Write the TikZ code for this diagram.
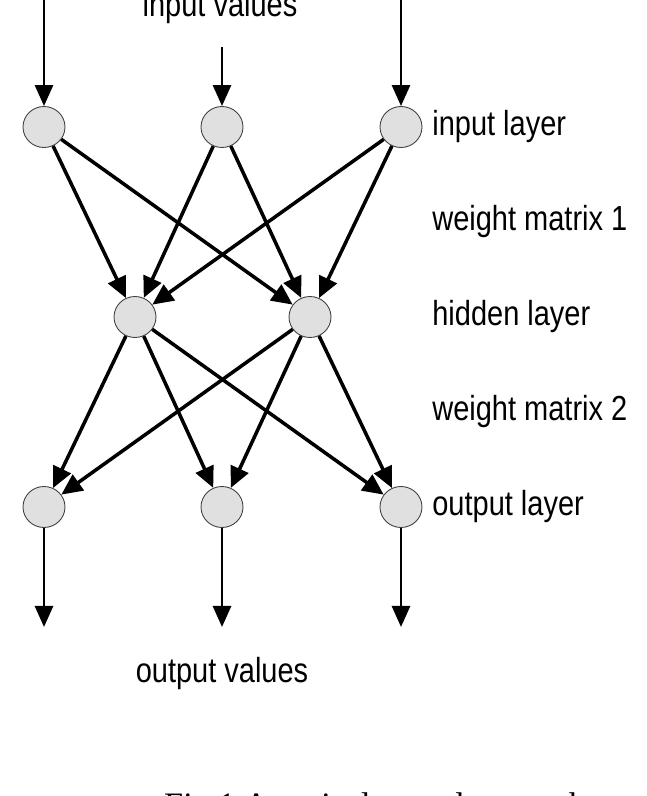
\documentclass[tikz,border=0pt]{standalone}
\usepackage{graphicx}
\usepackage{fontspec}
\setmainfont{Liberation Serif}
\setsansfont{Liberation Sans}
\usetikzlibrary{arrows.meta,shapes.geometric}

\newcommand{\alto}[1]{\scalebox{1}[1.2]{#1}}

\begin{document}
\begin{tikzpicture}[
    font=\sffamily\fontsize{16.5}{19}\selectfont,
    neurona/.style={ellipse,draw=black!75,fill=black!12,line width=0.5pt,
                    minimum width=0.84cm,minimum height=0.82cm,inner sep=0pt},
    peso/.style={line width=2.0pt,-{Triangle[width=0.38cm,length=0.42cm]}},
    flujo/.style={line width=1.6pt,-{Triangle[width=0.36cm,length=0.42cm]}},
    rotulo/.style={anchor=west,inner sep=0pt}]

  \useasboundingbox (0,0) rectangle (12.92,15.92);

  %% ================================ nodos ==================================
  \foreach \i/\x in {1/0.88, 2/4.44, 3/8.02} {
    \node[neurona] (in\i)  at (\x,13.38) {};
    \node[neurona] (out\i) at (\x, 5.78) {};
  }
  \foreach \i/\x in {1/2.70, 2/6.20}
    \node[neurona] (hid\i) at (\x,9.58) {};

  %% ============================== conexiones ===============================
  \foreach \i in {1,2,3}
    \foreach \j in {1,2}
      \draw[peso] (in\i) -- (hid\j);
  \foreach \j in {1,2}
    \foreach \k in {1,2,3}
      \draw[peso] (hid\j) -- (out\k);

  %% ======================== entradas y salidas =============================
  \coordinate (e1) at (0.88,16.10);
  \coordinate (e2) at (4.44,14.98);
  \coordinate (e3) at (8.02,16.10);
  \foreach \i in {1,2,3}
    \draw[flujo] (e\i) -- (in\i);
  \foreach \i/\x in {1/0.88, 2/4.44, 3/8.02} {
    \coordinate (s\i) at (\x,3.38);
    \draw[flujo] (out\i) -- (s\i);
  }

  %% =============================== textos ==================================
  \node[anchor=base] (entrada) at (4.40,15.58) {\alto{input values}};
  \node[anchor=base] (salida)  at (4.44, 2.26) {\alto{output values}};
  \node[rotulo] (capa1) at (8.64,13.38) {\alto{input layer}};
  \node[rotulo] (pesos1) at (8.64,11.48) {\alto{weight matrix 1}};
  \node[rotulo] (capa2) at (8.64, 9.58) {\alto{hidden layer}};
  \node[rotulo] (pesos2) at (8.64, 7.68) {\alto{weight matrix 2}};
  \node[rotulo] (capa3) at (8.64, 5.78) {\alto{output layer}};
  \node[anchor=base,font=\rmfamily\fontsize{19.5}{22}\selectfont]
    (pie) at (7.50,-0.40) {Fig.1 A typical neural network};

\end{tikzpicture}
\end{document}
